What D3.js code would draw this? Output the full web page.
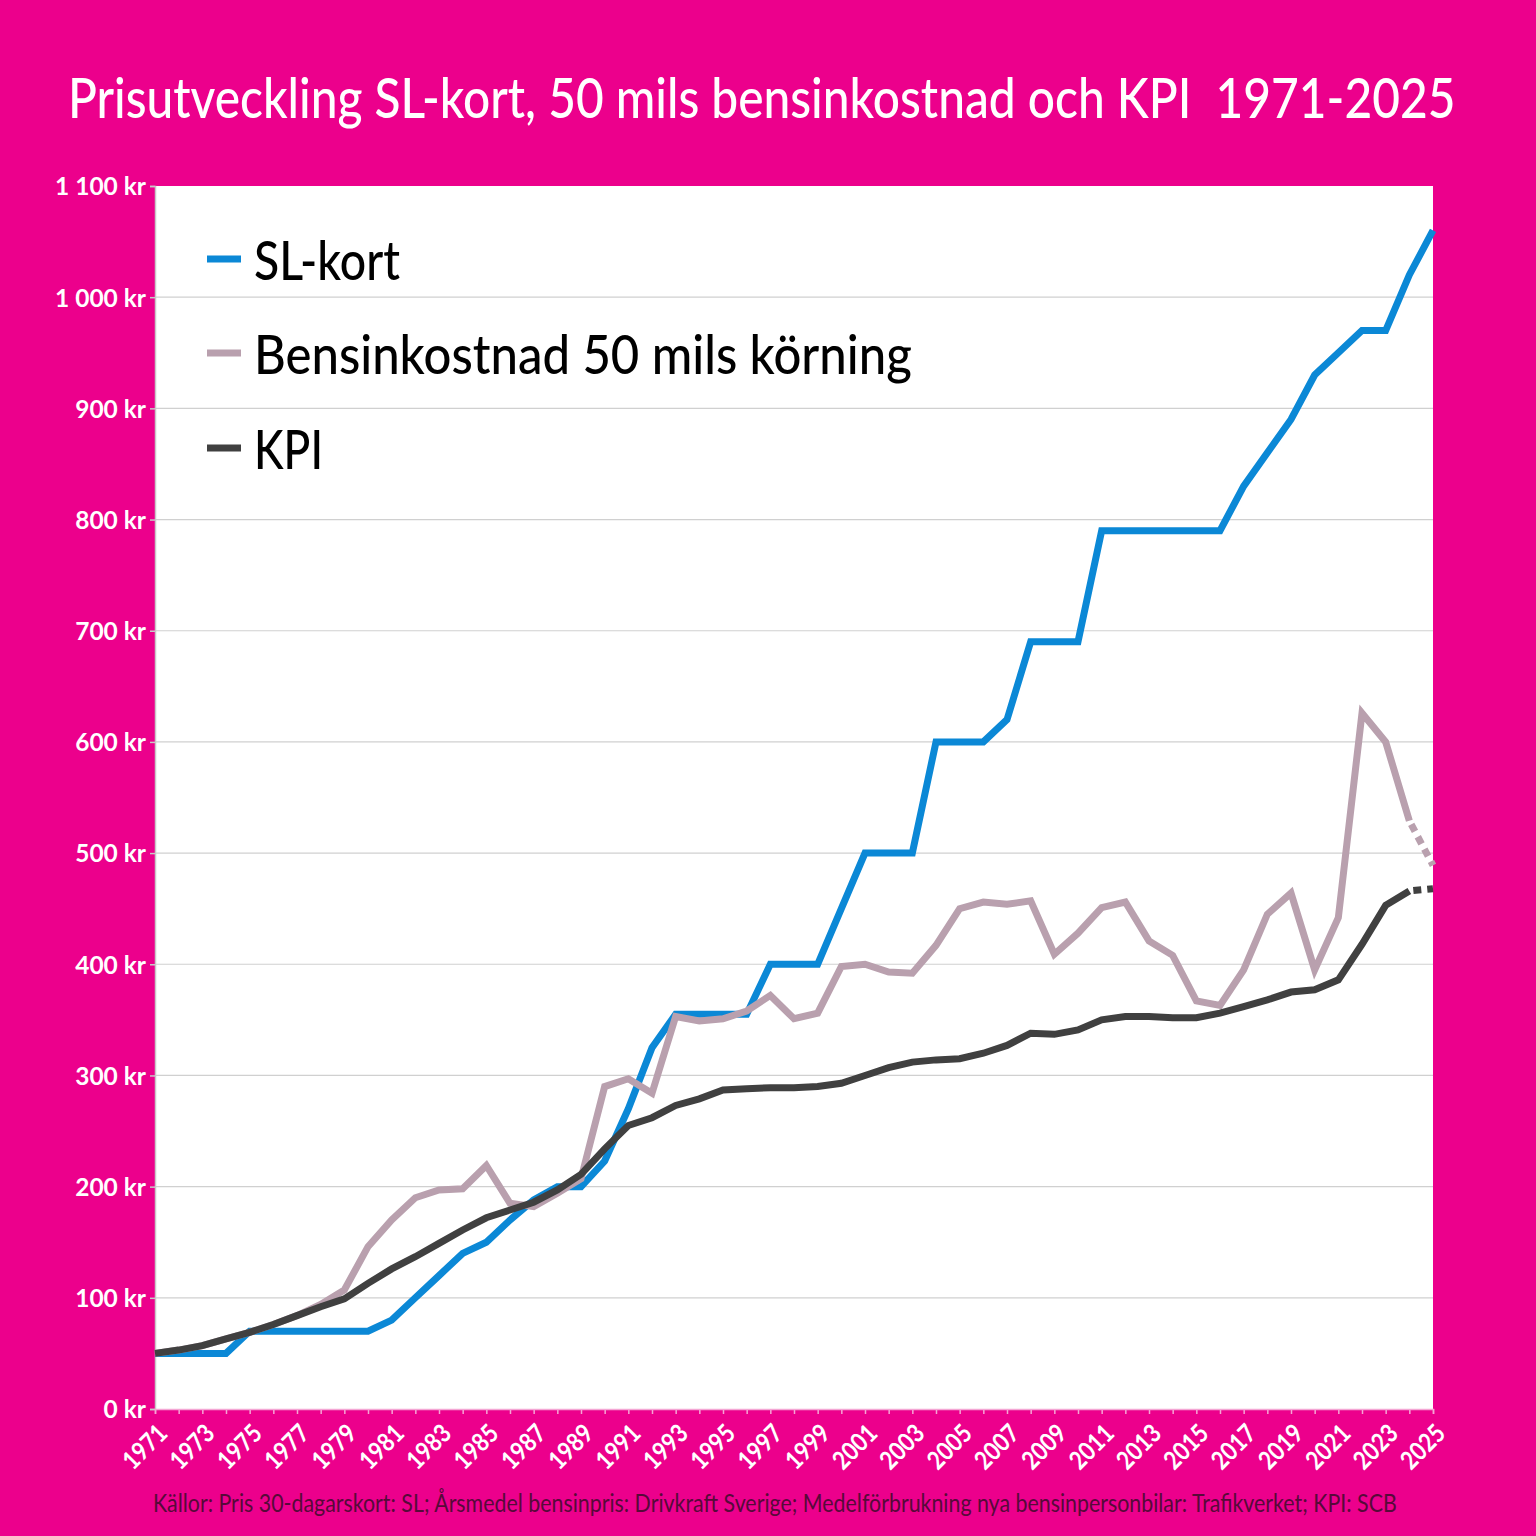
<!DOCTYPE html>
<html>
<head>
<meta charset="utf-8">
<script src="https://cdn.jsdelivr.net/npm/d3@7"></script>
<style>
  html, body { margin: 0; padding: 0; background: #EC008C; }
  svg { display: block; }
  text { white-space: pre; }
</style>
</head>
<body>
<svg id="chart" width="1536" height="1536"></svg>
<script>
const years = [1971,1972,1973,1974,1975,1976,1977,1978,1979,1980,1981,1982,1983,1984,1985,1986,1987,1988,1989,1990,
  1991,1992,1993,1994,1995,1996,1997,1998,1999,2000,2001,2002,2003,2004,2005,2006,2007,2008,2009,2010,
  2011,2012,2013,2014,2015,2016,2017,2018,2019,2020,2021,2022,2023,2024,2025];

const slKort = [50,50,50,50,70,70,70,70,70,70,80,100,120,140,150,170,188,200,200,223,
  270,325,355,355,355,355,400,400,400,450,500,500,500,600,600,600,620,690,690,690,
  790,790,790,790,790,790,830,860,890,930,950,970,970,1020,1060];

const bensin = [50,53,57,63,69,76,84,94,107,146,170,190,197,198,219,185,182,194,207,290,
  297,284,353,349,351,358,372,351,356,398,400,393,392,417,450,456,454,457,409,428,
  451,456,421,408,367,363,395,445,464,395,442,626,600,529,489];

const kpi = [50,53,57,63,69,76,84,92,99,113,126,137,149,161,172,179,186,197,211,234,
  255,262,273,279,287,288,289,289,290,293,300,307,312,314,315,320,327,338,337,341,
  350,353,353,352,352,356,362,368,375,377,386,418,453,466,468];

const yTicks = [0,100,200,300,400,500,600,700,800,900,1000,1100];
const xLabelYears = [1971,1973,1975,1977,1979,1981,1983,1985,1987,1989,1991,1993,1995,1997,1999,
  2001,2003,2005,2007,2009,2011,2013,2015,2017,2019,2021,2023,2025];

const seriesNames = ["SL-kort", "Bensinkostnad 50 mils körning", "KPI"];
const titleText = "Prisutveckling SL-kort, 50 mils bensinkostnad och KPI  1971-2025";
const sourceText = "Källor: Pris 30-dagarskort: SL; Årsmedel bensinpris: Drivkraft Sverige; Medelförbrukning nya bensinpersonbilar: Trafikverket; KPI: SCB";

const colors = ["#0B88D6", "#B9A0AE", "#404040"];
const FONT = "Lato, 'Open Sans', 'DejaVu Sans', sans-serif";

const svg = d3.select("#chart");
const W = 1536, H = 1536;
const pLeft = 155, pRight = 1433, pTop = 186, pBottom = 1409;

// draw text at (x0, y0) squeezed horizontally to a target width
function fitText(parent, str, x0, y0, target, attrs) {
  const g = parent.append("g");
  const t = g.append("text").attr("x", 0).attr("y", 0).text(str);
  Object.entries(attrs).forEach(([k, v]) => t.attr(k, v));
  const natural = t.node().getComputedTextLength();
  const sx = natural > 0 ? target / natural : 1;
  g.attr("transform", `translate(${x0},${y0}) scale(${sx},1)`);
  return g;
}

svg.append("rect").attr("x",0).attr("y",0).attr("width",W).attr("height",H).attr("fill","#EC008C");

const x = d3.scaleLinear().domain([1971, 2025]).range([pLeft, pRight]);
const y = d3.scaleLinear().domain([0, 1100]).range([pBottom, pTop]);

// plot area
svg.append("rect").attr("x", pLeft).attr("y", pTop).attr("width", pRight-pLeft).attr("height", pBottom-pTop).attr("fill", "#ffffff");

// gridlines
svg.append("g").selectAll("line").data(yTicks.filter(d => d > 0 && d < 1100)).join("line")
  .attr("x1", pLeft).attr("x2", pRight)
  .attr("y1", d => y(d)).attr("y2", d => y(d))
  .attr("stroke", "#D0D0D0").attr("stroke-width", 1.2);

// left axis
const yAxis = d3.axisLeft(y).tickValues(yTicks).tickSize(5)
  .tickFormat(d => d3.format(",")(d).replace(/,/g, " ") + " kr");
const gy = svg.append("g").attr("transform", `translate(${pLeft},0)`).call(yAxis);
gy.select(".domain").attr("stroke", "#C8C8C8").attr("stroke-width", 1.5);
gy.selectAll(".tick line").attr("stroke", "#C8C8C8").attr("stroke-width", 1.5);
gy.selectAll(".tick text").attr("fill", "#ffffff").attr("font-family", FONT)
  .attr("font-size", 24.5).attr("font-weight", 700).attr("x", -9).attr("dy", "0.36em");

// bottom axis
const xAxis = d3.axisBottom(x).tickValues(years).tickSize(5).tickFormat("");
const gx = svg.append("g").attr("transform", `translate(0,${pBottom})`).call(xAxis);
gx.select(".domain").attr("stroke", "#F4A6D4").attr("stroke-width", 1.5);
gx.selectAll(".tick line").attr("stroke", "#F4A6D4").attr("stroke-width", 1.5);

svg.append("g").selectAll("text").data(xLabelYears).join("text")
  .attr("transform", d => `translate(${x(d) + 1},${pBottom + 13}) rotate(-45) scale(0.86,1)`)
  .attr("text-anchor", "end")
  .attr("dy", "0.72em")
  .attr("fill", "#ffffff").attr("font-family", FONT).attr("font-size", 25.5).attr("font-weight", 700)
  .text(d => d);

// lines
const allSeries = [slKort, bensin, kpi];
const dottedFrom = [null, 2024, 2024];
const line = d3.line().x(d => x(d[0])).y(d => y(d[1])).curve(d3.curveLinear);

allSeries.forEach((vals, i) => {
  const pts = years.map((yr, k) => [yr, vals[k]]);
  const cut = dottedFrom[i];
  const solid = cut ? pts.filter(p => p[0] <= cut) : pts;
  svg.append("path").attr("d", line(solid))
    .attr("fill", "none").attr("stroke", colors[i]).attr("stroke-width", 7)
    .attr("stroke-linejoin", "miter").attr("stroke-miterlimit", 3);
  if (cut) {
    const dotted = pts.filter(p => p[0] >= cut);
    svg.append("path").attr("d", line(dotted))
      .attr("fill", "none").attr("stroke", colors[i]).attr("stroke-width", 7)
      .attr("stroke-dasharray", "8,6").attr("stroke-dashoffset", -4);
  }
});

// legend
const legendY = [259, 353, 448];
const legendLen = [146, 658, 69];
const lg = svg.append("g");
seriesNames.forEach((name, i) => {
  lg.append("line").attr("x1", 207).attr("x2", 241).attr("y1", legendY[i]).attr("y2", legendY[i])
    .attr("stroke", colors[i]).attr("stroke-width", 7);
  fitText(lg, name, 254, legendY[i] + 21, legendLen[i], {
    "font-family": FONT, "font-size": 54, "font-weight": 500, "fill": "#000000"
  });
});

// title
fitText(svg, titleText, 68, 118, 1388, {
  "font-family": FONT, "font-size": 56, "font-weight": 500, "fill": "#ffffff"
});

// source
fitText(svg, sourceText, 153, 1512, 1244, {
  "font-family": FONT, "font-size": 25, "font-weight": 400, "fill": "#560A39"
});
</script>
</body>
</html>
